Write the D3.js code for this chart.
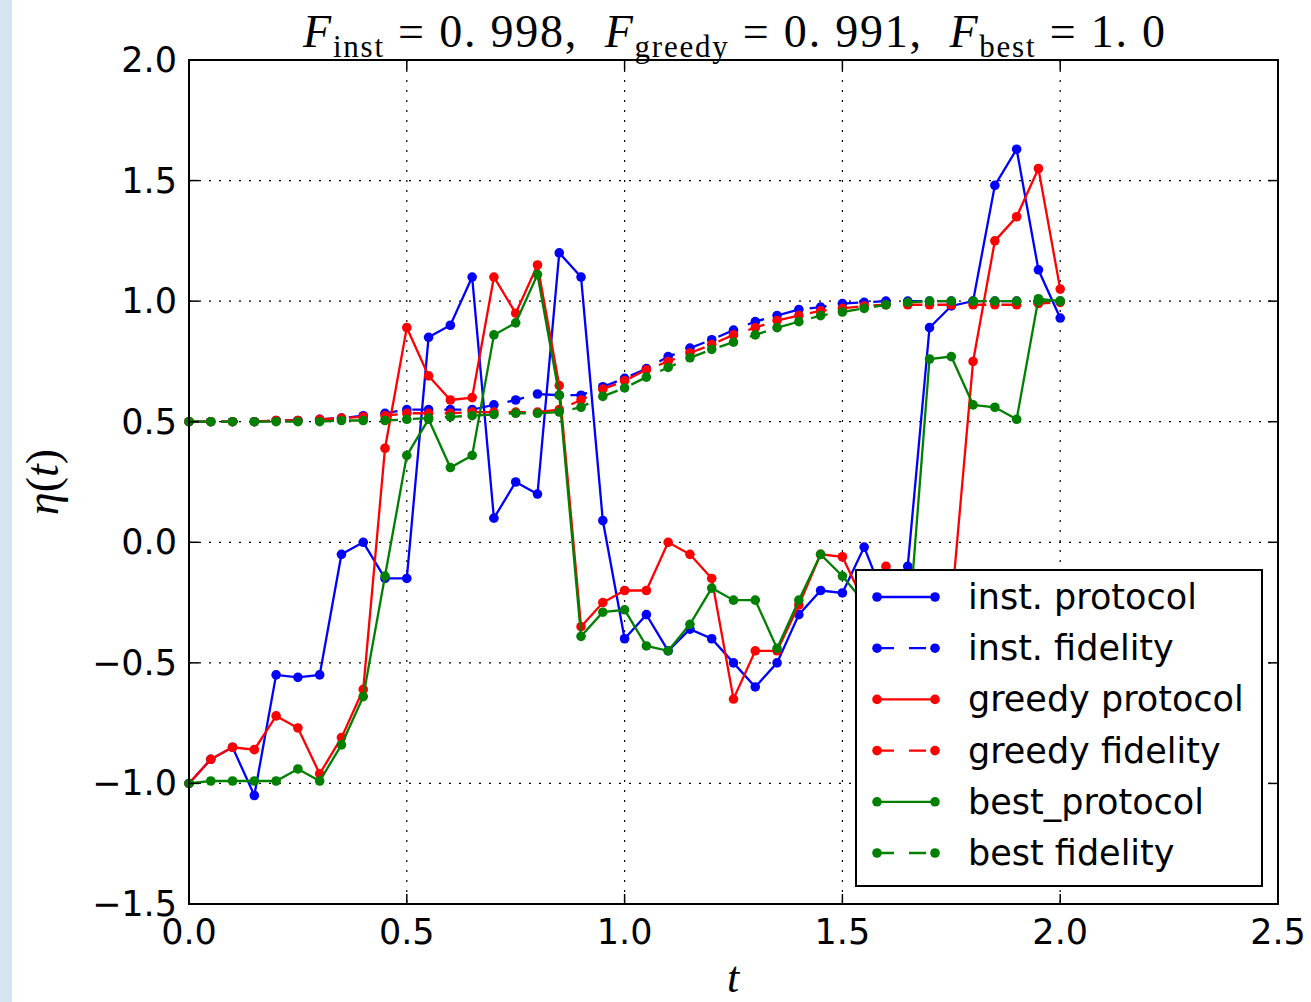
<!DOCTYPE html>
<html>
<head>
<meta charset="utf-8">
<script src="https://cdn.jsdelivr.net/npm/d3@7"></script>
<style>
  body { margin: 0; background: #fff; }
  svg text { fill: #000; }
</style>
</head>
<body>
<div id="chart"></div>
<script>
// eta(t) protocols and fidelities

var tValues = [0.0, 0.05, 0.1, 0.15, 0.2, 0.25, 0.3, 0.35, 0.4, 0.45,
	       0.5, 0.55, 0.6, 0.65, 0.7, 0.75, 0.8, 0.85, 0.9, 0.95,
	       1.0, 1.05, 1.1, 1.15, 1.2, 1.25, 1.3, 1.35, 1.4, 1.45,
	       1.5, 1.55, 1.6, 1.65, 1.7, 1.75, 1.8, 1.85, 1.9, 1.95, 2.0];

var instProtocol = [-1.0, -0.90, -0.85, -1.05, -0.55, -0.56, -0.55, -0.05, 0.0, -0.15,
		    -0.15, 0.85, 0.90, 1.10, 0.10, 0.25, 0.20, 1.20, 1.10, 0.09,
		    -0.40, -0.30, -0.45, -0.36, -0.40, -0.50, -0.60, -0.50, -0.30, -0.20,
		    -0.21, -0.02, -0.25, -0.10, 0.89, 0.98, 1.00, 1.48, 1.63, 1.13, 0.93];
var instFidelity = [0.50, 0.50, 0.50, 0.50, 0.505, 0.505, 0.51, 0.515, 0.525, 0.535,
		    0.55, 0.55, 0.55, 0.55, 0.57, 0.59, 0.615, 0.61, 0.61, 0.645,
		    0.68, 0.72, 0.77, 0.805, 0.84, 0.88, 0.915, 0.94, 0.965, 0.975,
		    0.99, 0.995, 1.0, 1.0, 1.0, 1.0, 1.0, 1.0, 1.0, 1.0, 1.0];
var greedyProtocol = [-1.0, -0.90, -0.85, -0.86, -0.72, -0.77, -0.96, -0.81, -0.61, 0.39,
		      0.89, 0.69, 0.59, 0.60, 1.10, 0.95, 1.15, 0.65, -0.35, -0.25,
		      -0.20, -0.20, 0.0, -0.05, -0.15, -0.65, -0.45, -0.45, -0.26, -0.05,
		      -0.06, -0.25, -0.10, -0.30, -0.50, -0.27, 0.75, 1.25, 1.35, 1.55, 1.05];
var greedyFidelity = [0.50, 0.50, 0.50, 0.50, 0.505, 0.505, 0.51, 0.515, 0.52, 0.525,
		      0.535, 0.535, 0.535, 0.54, 0.54, 0.54, 0.54, 0.55, 0.59, 0.635,
		      0.67, 0.715, 0.75, 0.785, 0.82, 0.86, 0.89, 0.92, 0.94, 0.96,
		      0.97, 0.98, 0.985, 0.985, 0.985, 0.985, 0.985, 0.985, 0.985, 0.99, 0.995];
var bestProtocol = [-1.0, -0.99, -0.99, -0.99, -0.99, -0.94, -0.99, -0.84, -0.64, -0.14,
		    0.36, 0.51, 0.31, 0.36, 0.86, 0.91, 1.11, 0.61, -0.39, -0.29,
		    -0.28, -0.43, -0.45, -0.34, -0.19, -0.24, -0.24, -0.44, -0.24, -0.05,
		    -0.14, -0.25, -0.35, -0.40, 0.76, 0.77, 0.57, 0.56, 0.51, 1.01, 1.00];
var bestFidelity = [0.50, 0.50, 0.50, 0.50, 0.50, 0.50, 0.50, 0.505, 0.505, 0.505,
		    0.51, 0.515, 0.52, 0.525, 0.53, 0.535, 0.535, 0.54, 0.56, 0.605,
		    0.64, 0.685, 0.725, 0.765, 0.80, 0.83, 0.86, 0.89, 0.915, 0.94,
		    0.955, 0.97, 0.985, 0.995, 1.0, 1.0, 1.0, 1.0, 1.0, 1.0, 1.0];

var seriesNames = ["inst. protocol", "inst. fidelity", "greedy protocol", "greedy fidelity", "best_protocol", "best fidelity"];
var seriesColors = ["#0000ff", "#0000ff", "#ff0000", "#ff0000", "#008000", "#008000"];
var seriesDashed = [false, true, false, true, false, true];
var seriesValues = [instProtocol, instFidelity, greedyProtocol, greedyFidelity, bestProtocol, bestFidelity];

var xTicks = [0.0, 0.5, 1.0, 1.5, 2.0, 2.5];
var yTicks = [-1.5, -1.0, -0.5, 0.0, 0.5, 1.0, 1.5, 2.0];

var chart = chart || {
    param: {
	width: 1311,
	height: 1002,
	left: 189,
	right: 1278,
	top: 60,
	bottom: 904,
	lineWidth: 2.3,
	markR: 4.8,
	tickFont: "'DejaVu Sans', 'Bitstream Vera Sans', sans-serif",
	mathFont: "'Liberation Serif', 'DejaVu Serif', serif"
    },

    init: function(){
	var param = chart.param;
	var svg = d3.select("#chart").append("svg")
	    .attr("width", param.width)
	    .attr("height", param.height);

	// screenshot edge
	svg.append("rect").attr("x", 0).attr("y", 0).attr("width", 12).attr("height", param.height)
	    .attr("fill", "#d5e3f3");

	var x = d3.scaleLinear().domain([0, 2.5]).range([param.left, param.right]);
	var y = d3.scaleLinear().domain([-1.5, 2.0]).range([param.bottom, param.top]);

	chart.grid(svg, x, y);
	chart.lines(svg, x, y);
	chart.axes(svg, x, y);
	chart.legend(svg);
	chart.labels(svg);
    },

    grid: function(svg, x, y){
	var param = chart.param;
	var g = svg.append("g").attr("stroke", "#000").attr("stroke-width", 1.2)
	    .attr("stroke-dasharray", "2,8").attr("fill", "none");
	g.selectAll("line.gx").data(xTicks.slice(1, -1)).enter().append("line")
	    .attr("x1", d => x(d)).attr("x2", d => x(d))
	    .attr("y1", param.top).attr("y2", param.bottom);
	g.selectAll("line.gy").data(yTicks.slice(1, -1)).enter().append("line")
	    .attr("y1", d => y(d)).attr("y2", d => y(d))
	    .attr("x1", param.left).attr("x2", param.right);
    },

    lines: function(svg, x, y){
	var param = chart.param;
	var line = d3.line().x((d, i) => x(tValues[i])).y(d => y(d));
	seriesValues.forEach(function(vals, k){
	    var g = svg.append("g");
	    g.append("path").attr("d", line(vals))
		.attr("fill", "none")
		.attr("stroke", seriesColors[k])
		.attr("stroke-width", param.lineWidth)
		.attr("stroke-dasharray", seriesDashed[k] ? "17,15" : null);
	    g.selectAll("circle").data(vals).enter().append("circle")
		.attr("cx", (d, i) => x(tValues[i]))
		.attr("cy", d => y(d))
		.attr("r", param.markR)
		.attr("fill", seriesColors[k]);
	});
    },

    axes: function(svg, x, y){
	var param = chart.param;
	var fmt = d3.format(".1f");
	var lab = d => fmt(d).replace("-", "\u2212");

	// inward ticks on all four sides
	var tk = svg.append("g").attr("stroke", "#000").attr("stroke-width", 1.5);
	xTicks.forEach(function(d){
	    tk.append("line").attr("x1", x(d)).attr("x2", x(d)).attr("y1", param.bottom).attr("y2", param.bottom - 10);
	    tk.append("line").attr("x1", x(d)).attr("x2", x(d)).attr("y1", param.top).attr("y2", param.top + 10);
	});
	yTicks.forEach(function(d){
	    tk.append("line").attr("y1", y(d)).attr("y2", y(d)).attr("x1", param.left).attr("x2", param.left + 10);
	    tk.append("line").attr("y1", y(d)).attr("y2", y(d)).attr("x1", param.right).attr("x2", param.right - 10);
	});

	svg.append("rect")
	    .attr("x", param.left).attr("y", param.top)
	    .attr("width", param.right - param.left).attr("height", param.bottom - param.top)
	    .attr("fill", "none").attr("stroke", "#000").attr("stroke-width", 2);

	svg.append("g").selectAll("text").data(xTicks).enter().append("text")
	    .attr("x", d => x(d)).attr("y", param.bottom + 40)
	    .attr("text-anchor", "middle")
	    .style("font-family", param.tickFont).style("font-size", "35px")
	    .text(lab);
	svg.append("g").selectAll("text").data(yTicks).enter().append("text")
	    .attr("x", param.left - 12).attr("y", d => y(d) + 12)
	    .attr("text-anchor", "end")
	    .style("font-family", param.tickFont).style("font-size", "35px")
	    .text(lab);
    },

    legend: function(svg){
	var param = chart.param;
	var lg = svg.append("g").attr("transform", "translate(856,570)");
	lg.append("rect").attr("width", 406).attr("height", 316)
	    .attr("fill", "#fff").attr("stroke", "#000").attr("stroke-width", 2);
	seriesNames.forEach(function(name, k){
	    var cy = 27 + k * 51.2;
	    lg.append("line").attr("x1", 21).attr("x2", 79).attr("y1", cy).attr("y2", cy)
		.attr("stroke", seriesColors[k]).attr("stroke-width", param.lineWidth)
		.attr("stroke-dasharray", seriesDashed[k] ? "17,15" : null);
	    [21, 79].forEach(function(cx){
		lg.append("circle").attr("cx", cx).attr("cy", cy).attr("r", param.markR).attr("fill", seriesColors[k]);
	    });
	    lg.append("text").attr("x", 112).attr("y", cy + 12)
		.style("font-family", param.tickFont).style("font-size", "35px")
		.text(name);
	});
    },

    labels: function(svg){
	var param = chart.param;
	var t = svg.append("text")
	    .attr("x", 303).attr("y", 47)
	    .attr("textLength", 862).attr("lengthAdjust", "spacing")
	    .style("font-family", param.mathFont).style("font-size", "46px")
	    .style("white-space", "pre");
	var parts = [["F", "inst", " = 0. 998,  "], ["F", "greedy", " = 0. 991,  "], ["F", "best", " = 1. 0"]];
	parts.forEach(function(p){
	    t.append("tspan").style("font-style", "italic").text(p[0]);
	    t.append("tspan").attr("dy", 10).style("font-size", "31px").text(p[1]);
	    t.append("tspan").attr("dy", -10).text(p[2]);
	});

	svg.append("text")
	    .attr("transform", "translate(58,482) rotate(-90)")
	    .attr("text-anchor", "middle")
	    .style("font-family", param.mathFont).style("font-size", "46px")
	    .html("<tspan font-style='italic'>\u03b7</tspan>(<tspan font-style='italic'>t</tspan>)");

	svg.append("text")
	    .attr("x", 733).attr("y", 992)
	    .attr("text-anchor", "middle")
	    .style("font-family", param.mathFont).style("font-size", "44px").style("font-style", "italic")
	    .text("t");
    }
};

chart.init();
</script>
</body>
</html>
